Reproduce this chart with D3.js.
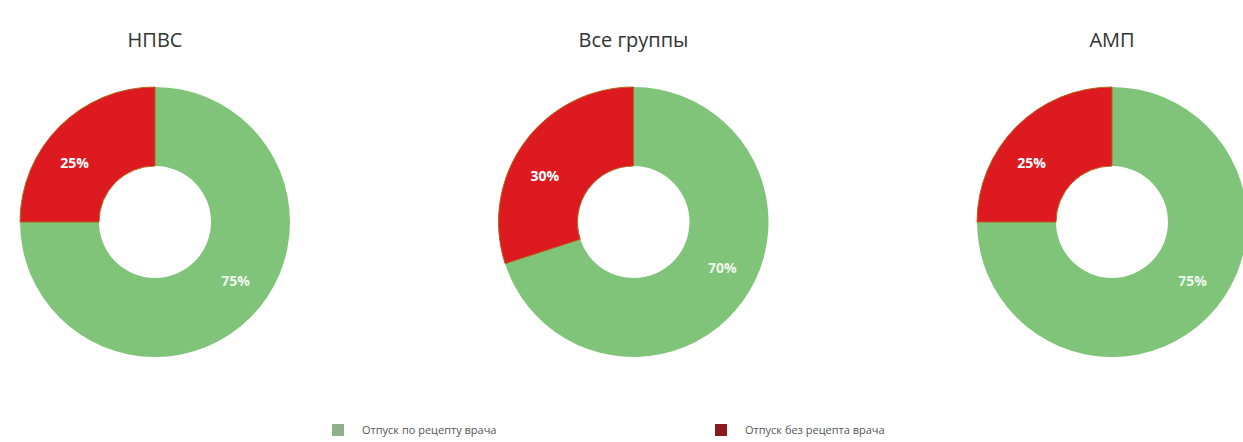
<!DOCTYPE html>
<html lang="ru">
  <head>
    <meta charset="UTF-8" />
    <title>Donuts</title>
    <script src="https://d3js.org/d3.v7.min.js"></script>
    <style>
      body {
        margin: 0;
        background: #fff;
        font-family: "Open Sans", sans-serif;
      }
    </style>
  </head>
  <body>
    <svg width="1243" height="442"></svg>

    <script>
      const groups = ["НПВС", "Все группы", "АМП"];
      const categories = ["Отпуск по рецепту врача", "Отпуск без рецепта врача"];
      const greenValues = [75, 70, 75];
      const redValues = [25, 30, 25];

      const colors = ["#80c47a", "#dc1a1f"];
      const svg = d3.select("svg");

      const centers = d3.scalePoint().domain(groups).range([155, 1112]);
      const rOuter = 135, rInner = 56, cy = 222;

      const pie = d3.pie().sort(null).value((d) => d.value);
      const arc = d3.arc().innerRadius(rInner).outerRadius(rOuter);
      const labelArc = d3.arc().innerRadius(100).outerRadius(100);
      // labels sit a little counterclockwise of the slice middle
      const shifted = (d) => labelArc.centroid({startAngle: d.startAngle - 0.15, endAngle: d.endAngle - 0.15});

      groups.forEach((name, i) => {
        // red goes counterclockwise from 12 o'clock, green takes the rest
        const slices = [
          {key: 0, value: greenValues[i]},
          {key: 1, value: redValues[i]},
        ];
        const g = svg.append("g").attr("transform", `translate(${centers(name)},${cy})`);

        g.selectAll("path")
          .data(pie(slices))
          .join("path")
          .attr("d", arc)
          .attr("fill", (d) => colors[d.data.key])
          .attr("stroke", (d) => (d.data.key === 1 ? "#b5651d" : "none"))
          .attr("stroke-width", 1);

        g.selectAll("text.lbl")
          .data(pie(slices))
          .join("text")
          .attr("class", "lbl")
          .attr("transform", (d) => `translate(${shifted(d)})`)
          .attr("text-anchor", "middle")
          .attr("dy", "0.35em")
          .attr("fill", (d) => (d.data.key === 1 ? "#fff" : "#eef7ea"))
          .attr("font-size", 14)
          .attr("font-weight", "bold")
          .text((d) => d.data.value + "%");

        svg.append("text")
          .attr("x", centers(name))
          .attr("y", 47)
          .attr("text-anchor", "middle")
          .attr("font-size", 20)
          .attr("fill", "#333")
          .text(name);
      });

      // legend
      const legendX = d3.scaleOrdinal().domain(categories).range([332, 715]);
      const lg = svg.selectAll("g.legend")
        .data(categories)
        .join("g")
        .attr("class", "legend")
        .attr("transform", (d) => `translate(${legendX(d)},424)`);
      lg.append("rect")
        .attr("width", 12)
        .attr("height", 12)
        .attr("fill", (d, i) => (i === 0 ? "#8fb08a" : "#8b1a1e"));
      lg.append("text")
        .attr("x", 30)
        .attr("y", 10)
        .attr("font-size", 11)
        .attr("fill", "#555")
        .text((d) => d);
    </script>
  </body>
</html>
